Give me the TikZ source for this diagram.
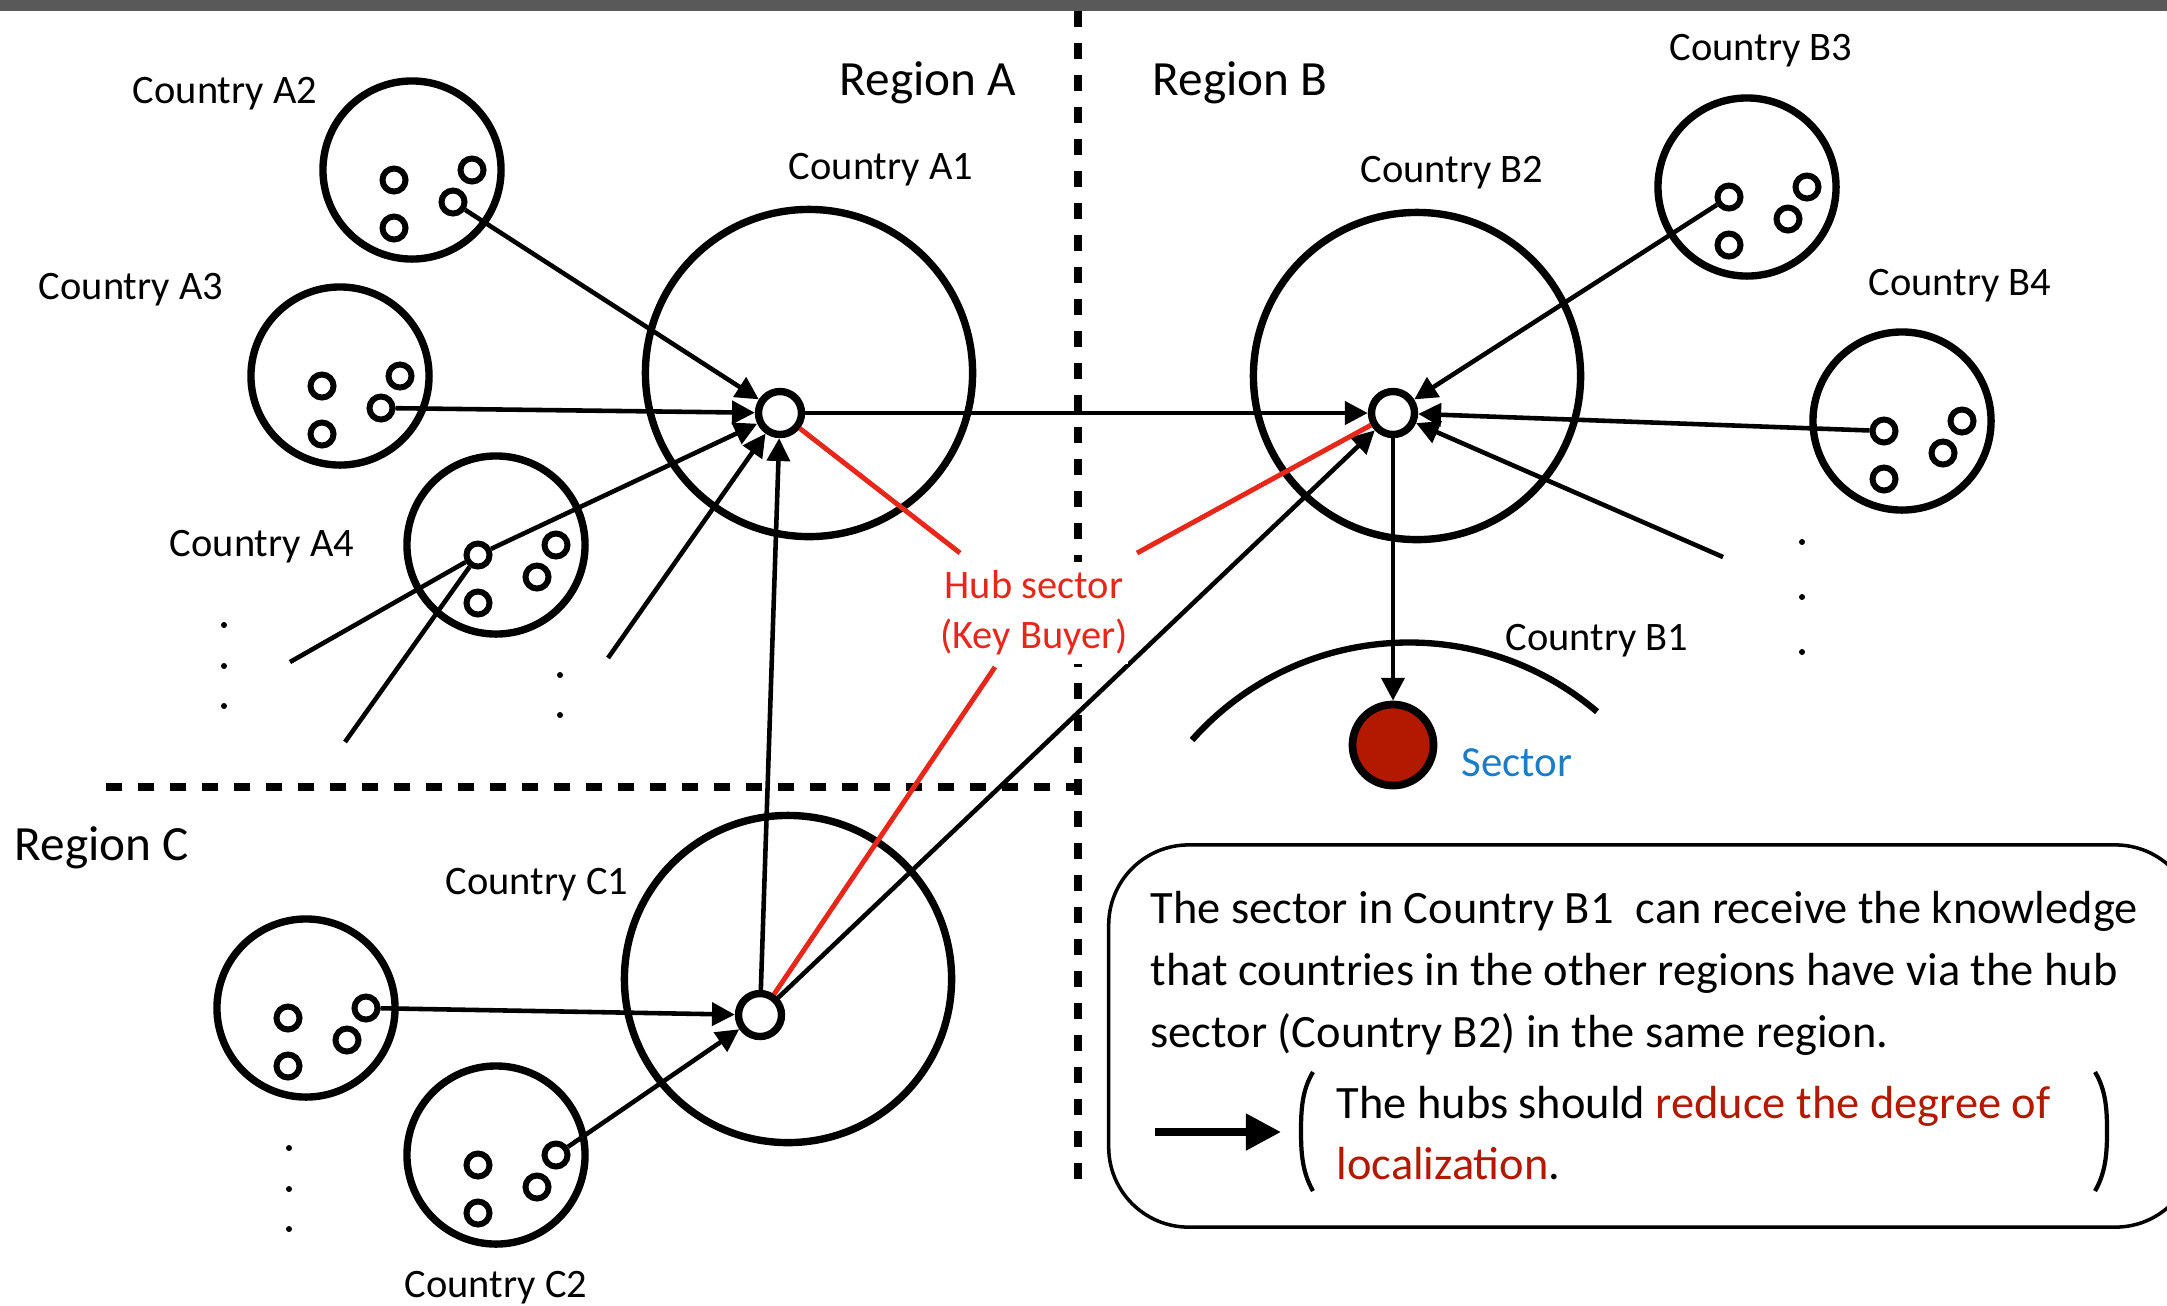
\documentclass[tikz,border=0pt]{standalone}
\usepackage{fontspec}
\setmainfont{Carlito}
\usetikzlibrary{arrows.meta}
\definecolor{barg}{HTML}{595959}
\definecolor{hubred}{HTML}{E8271B}
\definecolor{darkred}{HTML}{B31800}
\definecolor{secblue}{HTML}{1B7DC6}
\newcommand{\mycluster}[3]{%
  \node[ctry] (#1) at (#2,-#3) {};
  \node[dot] (#1-1) at ({#2-18},{-#3-10}) {};
  \node[dot] (#1-2) at ({#2+60},{-#3}) {};
  \node[dot] (#1-3) at ({#2+41},{-#3-32}) {};
  \node[dot] (#1-4) at ({#2-18},{-#3-58}) {};}
\begin{document}
\begin{tikzpicture}[x=0.01cm,y=0.01cm,
  ctry/.style={circle, draw, line width=2.1pt, minimum size=1.78cm, inner sep=0pt},
  bigc/.style={circle, draw, line width=2.1pt, minimum size=3.27cm, inner sep=0pt},
  dot/.style={circle, draw, line width=1.7pt, minimum size=0.23cm, inner sep=0pt, fill=white},
  hub/.style={circle, draw, line width=2.1pt, minimum size=0.43cm, inner sep=0pt, fill=white},
  lbl/.style={font=\fontsize{11.5}{13}\selectfont, inner sep=0pt},
  reg/.style={font=\fontsize{14}{16}\selectfont, inner sep=0pt},
  boxt/.style={font=\fontsize{13.2}{16}\selectfont, inner sep=0pt, anchor=base west},
  arr/.style={line width=1.3pt, -{Triangle[length=6.5pt,width=6.5pt]}},
  conn/.style={line width=1.3pt},
  redl/.style={line width=1.4pt, hubred},
  divider/.style={line width=2.1pt, dash pattern=on 4.5pt off 4.6pt},
  ]
\useasboundingbox (0,0) rectangle (2167,-1305);
\clip (0,0) rectangle (2167,-1305);
\fill[barg] (0,0) rectangle (2167,-11);

% dividers
\coordinate (vt) at (1078,-11);
\coordinate (vb) at (1078,-1194);
\coordinate (hl) at (106,-787);
\coordinate (hr) at (1078,-787);
\draw[divider] (vt) -- (vb);
\draw[divider] (hl) -- (hr);

% big circles
\node[bigc] (A1) at (809,-373) {};
\node[bigc] (B2) at (1417,-376) {};
\node[bigc] (C1) at (788,-979) {};

% clusters
\mycluster{A2}{412}{170}
\mycluster{A3}{340}{376}
\mycluster{A4}{496}{545}
\mycluster{B3}{1747}{187}
\mycluster{B4}{1902}{421}
\mycluster{C3}{306}{1008}
\mycluster{C2}{496}{1155}

% hubs
\node[hub] (hubA) at (780,-413) {};
\node[hub] (hubB) at (1393,-413) {};
\node[hub] (hubC) at (760,-1015) {};
\node[circle, draw, line width=2.2pt, fill=darkred, minimum size=0.81cm, inner sep=0pt] (sec) at (1393,-745) {};

% free ends
\coordinate (ea1) at (290,-662);
\coordinate (ea2) at (345,-742);
\coordinate (ea3) at (608,-658);
\coordinate (eb1) at (1723,-557);
\coordinate (rA) at (960,-553);
\coordinate (rB) at (1137,-553);
\coordinate (rC) at (995,-667);

% connectors
\draw[arr] (A2-3) -- (hubA);
\draw[arr] (A3-3) -- (hubA);
\draw[arr] (A4-1) -- (hubA);
\draw[conn] (ea1) -- (A4-1);
\draw[conn] (ea2) -- (A4-1);
\draw[arr] (ea3) -- (hubA);
\draw[arr] (hubC) -- (hubA);
\draw[arr] (hubA) -- (hubB);
\draw[arr] (hubC) -- (hubB);
\draw[arr] (B3-1) -- (hubB);
\draw[arr] (B4-1) -- (hubB);
\draw[arr] (eb1) -- (hubB);
\draw[arr] (hubB) -- (sec);
\draw[arr] (C3-2) -- (hubC);
\draw[arr] (C2-2) -- (hubC);

% red lines
\draw[redl] (hubA) -- (rA);
\draw[redl] (rB) -- (hubB);
\draw[redl] (rC) -- (hubC);

% B1 arc
\draw[line width=1.8pt] (1192,-740) arc[start angle=138.4, end angle=49.6, radius=2.9cm];

% ellipsis dots
\foreach \p in {(224,-625),(224,-666),(224,-706),(560,-675),(560,-715),(289,-1148),(289,-1189),(289,-1229),(1802,-542),(1802,-597),(1802,-652)}
  \fill \p circle[radius=0.03cm];

% labels
\node[reg] (rgA) at (928,-83) {Region A};
\node[reg] (rgB) at (1240,-83) {Region B};
\node[reg] (rgC) at (102,-848) {Region C};
\node[lbl] (lA1) at (881,-170) {Country A1};
\node[lbl] (lA2) at (225,-94) {Country A2};
\node[lbl] (lA3) at (131,-290) {Country A3};
\node[lbl] (lA4) at (262,-547) {Country A4};
\node[lbl] (lB1) at (1597,-641) {Country B1};
\node[lbl] (lB2) at (1452,-173) {Country B2};
\node[lbl] (lB3) at (1761,-51) {Country B3};
\node[lbl] (lB4) at (1960,-286) {Country B4};
\node[lbl] (lC1) at (537,-885) {Country C1};
\node[lbl] (lC2) at (496,-1288) {Country C2};
\fill[white] (940,-562) rectangle (1128,-664);
\node[lbl, text=hubred] (hs1) at (1034,-585) {Hub sector};
\node[lbl, text=hubred] (hs2) at (1034,-637) {(Key Buyer)};
\node[font=\fontsize{12.2}{14}\selectfont, inner sep=0pt, text=secblue] (secl) at (1517,-763) {Sector};

% text box
\node[draw, line width=1pt, rounded corners=0.8cm, minimum width=10.86cm, minimum height=3.82cm, inner sep=0pt] (box) at (1652,-1036) {};
\node[boxt] (t1) at (1150,-923) {The sector in Country B1\hspace{0.25em} can receive the knowledge};
\node[boxt] (t2) at (1150,-985) {that countries in the other regions have via the hub};
\node[boxt] (t3) at (1150,-1047) {sector (Country B2) in the same region.};
\node[boxt] (t4) at (1336,-1118) {The hubs should \textcolor{darkred}{reduce the degree of}};
\node[boxt] (t5) at (1336,-1179) {\textcolor{darkred}{localization}.};
\coordinate (ba1) at (1155,-1132);
\coordinate (ba2) at (1281,-1132);
\draw[line width=2.2pt, -{Triangle[length=10pt,width=10pt]}] (ba1) -- (ba2);
\draw[line width=1.2pt] (1313,-1072) .. controls (1302,-1090) and (1301,-1110) .. (1301,-1131) .. controls (1301,-1152) and (1302,-1172) .. (1313,-1191);
\draw[line width=1.2pt] (2095,-1072) .. controls (2106,-1090) and (2107,-1110) .. (2107,-1131) .. controls (2107,-1152) and (2106,-1172) .. (2095,-1191);
\end{tikzpicture}
\end{document}
